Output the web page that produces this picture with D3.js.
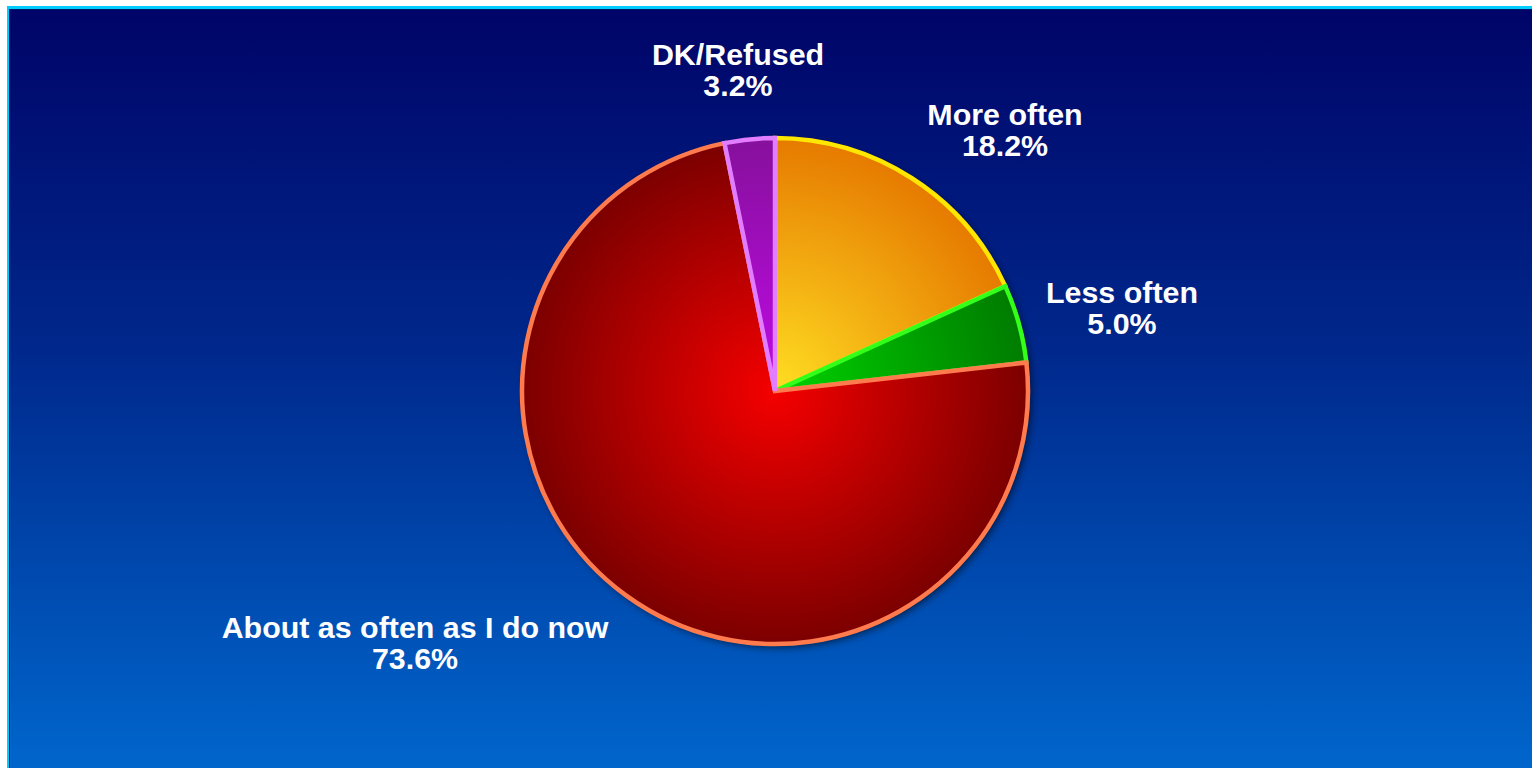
<!DOCTYPE html>
<html>
<head>
<meta charset="utf-8">
<script src="https://cdn.jsdelivr.net/npm/d3@7"></script>
<style>
  html, body { margin: 0; padding: 0; background: #ffffff; }
  svg { display: block; }
</style>
</head>
<body>
<svg id="chart" width="1532" height="768"></svg>
<script>
// ---- data ----
const categories = ["More often", "Less often", "About as often as I do now", "DK/Refused"];
const values = [18.2, 5.0, 73.6, 3.2];
const valueLabels = ["18.2%", "5.0%", "73.6%", "3.2%"];

// ---- styles ----
const innerColors = ["#ffde22", "#00d400", "#f50000", "#c00ae6"];
const outerColors = ["#e67a00", "#007c00", "#7c0000", "#86109c"];
const strokeColors = ["#ffe600", "#33ff1a", "#ff7a4d", "#e27dff"];
// label centre offsets relative to pie centre (layout only)
const labelOffsets = [[230, -266], [347, -88], [-360, 247], [-37, -326]];

const W = 1532, H = 768;
const cx = 775, cy = 391, R = 253;

const svg = d3.select("#chart");
const defs = svg.append("defs");

const bg = defs.append("linearGradient").attr("id", "bg")
  .attr("x1", 0).attr("y1", 0).attr("x2", 0).attr("y2", 1);
bg.append("stop").attr("offset", "0%").attr("stop-color", "#000468");
bg.append("stop").attr("offset", "45%").attr("stop-color", "#00288c");
bg.append("stop").attr("offset", "100%").attr("stop-color", "#0066cc");

values.forEach((v, i) => {
  const g = defs.append("radialGradient").attr("id", "sg" + i)
    .attr("gradientUnits", "userSpaceOnUse")
    .attr("cx", 0).attr("cy", 0).attr("r", R);
  g.append("stop").attr("offset", "0%").attr("stop-color", innerColors[i]);
  g.append("stop").attr("offset", "100%").attr("stop-color", outerColors[i]);
});

const f = defs.append("filter").attr("id", "shadow")
  .attr("x", "-20%").attr("y", "-20%").attr("width", "140%").attr("height", "140%");
f.append("feDropShadow").attr("dx", 3).attr("dy", 3).attr("stdDeviation", 4)
  .attr("flood-color", "#000000").attr("flood-opacity", 0.65);

// frame
svg.append("rect").attr("x", 7).attr("y", 6).attr("width", W - 7).attr("height", H - 6)
  .attr("fill", "#00ccff");
svg.append("rect").attr("x", 9).attr("y", 9).attr("width", W - 9).attr("height", H - 9)
  .attr("fill", "#001a6a");
svg.append("rect").attr("x", 10).attr("y", 10).attr("width", W - 10).attr("height", H - 10)
  .attr("fill", "url(#bg)");

// pie
const pie = d3.pie().sort(null).value(d => d)(values);
const arc = d3.arc().innerRadius(0).outerRadius(R);

const pg = svg.append("g").attr("transform", `translate(${cx},${cy})`);
pg.append("circle").attr("r", R).attr("fill", "#3a0000").attr("filter", "url(#shadow)");

pg.selectAll("path.slice").data(pie).enter().append("path")
  .attr("class", "slice")
  .attr("d", arc)
  .attr("fill", (d, i) => `url(#sg${i})`)
  .attr("stroke", (d, i) => strokeColors[i])
  .attr("stroke-width", 4.5)
  .attr("stroke-linejoin", "miter");

// labels
const lg = svg.append("g").attr("font-family", "'Liberation Sans', Arial, sans-serif")
  .attr("font-weight", "bold").attr("font-size", 30.4).attr("fill", "#ffffff")
  .attr("text-anchor", "middle");

pie.forEach((d, i) => {
  const x = cx + labelOffsets[i][0];
  const y = cy + labelOffsets[i][1];
  const t = lg.append("text").attr("x", x).attr("y", y);
  t.append("tspan").attr("x", x).attr("dy", 0).text(categories[i]);
  t.append("tspan").attr("x", x).attr("dy", 31).text(valueLabels[i]);
});
</script>
</body>
</html>
